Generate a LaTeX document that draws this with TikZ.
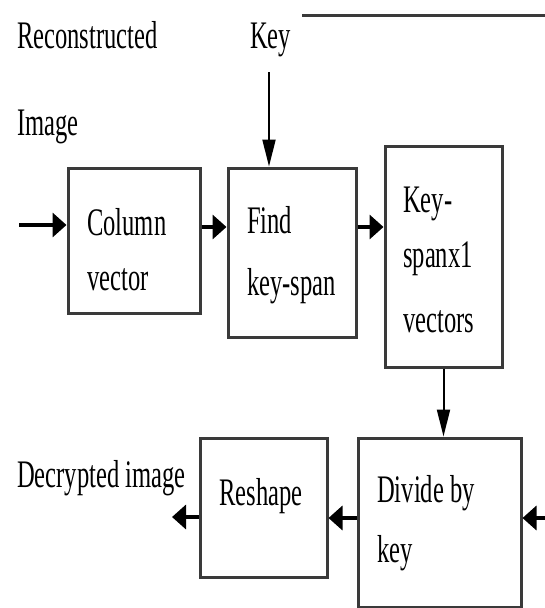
\documentclass[tikz,border=0pt]{standalone}
\usepackage{fontspec}
\setmainfont{Liberation Serif}[FakeStretch=0.63]
\usetikzlibrary{arrows.meta}
\definecolor{boxgray}{HTML}{3A3A3A}
\begin{document}
\begin{tikzpicture}[x=1pt,y=-1pt,
  box/.style={draw=boxgray, line width=3pt, inner sep=0pt, rectangle},
  lbl/.style={anchor=base west, inner sep=0pt, font=\fontsize{39}{47}\selectfont},
  harrow/.style={draw=black, line width=4pt, -{Triangle[length=14pt,width=24pt]}},
  varrow/.style={draw=black, line width=2pt, -{Triangle[length=27pt,width=13pt]}}]
\useasboundingbox (0,0) rectangle (545,608);

% boxes
\node[box, minimum width=132pt, minimum height=145pt] (col) at (134,240.5) {};
\node[box, minimum width=128pt, minimum height=169pt] (find) at (292,252.5) {};
\node[box, minimum width=117pt, minimum height=221pt] (kb) at (443.5,256.5) {};
\node[box, minimum width=127pt, minimum height=139pt] (rs) at (263.5,507.5) {};
\node[box, minimum width=163pt, minimum height=169pt] (div) at (439.5,522.5) {};

% labels
\node[lbl] (t1) at (17,48) {Reconstructed};
\node[lbl] (t2) at (17,135) {Image};
\node[lbl] (t3) at (250,48) {Key};
\node[lbl] (c1) at (87,235) {Column};
\node[lbl] (c2) at (87,290) {vector};
\node[lbl] (f1) at (247,233) {Find};
\node[lbl] (f2) at (247,295) {key-span};
\node[lbl] (k1) at (403,212) {Key-};
\node[lbl] (k2) at (403,267) {spanx1};
\node[lbl] (k3) at (403,332) {vectors};
\node[lbl] (d0) at (17,487) {Decrypted image};
\node[lbl] (r1) at (219,505) {Reshape};
\node[lbl] (d1) at (377,502) {Divide by};
\node[lbl] (d2) at (377,562) {key};

% free ends
\coordinate (in) at (19,225);
\coordinate (keyin) at (269,72);
\coordinate (out) at (172,517);
\coordinate (rin) at (545,518);
\coordinate (tl1) at (302,15);
\coordinate (tl2) at (545,15);

% connectors
\draw[draw=boxgray, line width=3pt] (tl1) -- (tl2);
\draw[harrow] (in) -- (in -| col.west);
\draw[harrow] (col.east |- 0,227) -- (find.west |- 0,227);
\draw[harrow] (find.east |- 0,227) -- (kb.west |- 0,227);
\draw[varrow] (keyin) -- (keyin |- find.north);
\draw[varrow] (kb.south) -- (kb.south |- div.north);
\draw[harrow] (div.west |- 0,518) -- (rs.east |- 0,518);
\draw[harrow] (rs.west |- out) -- (out);
\draw[harrow] (rin) -- (div.east |- rin);
\end{tikzpicture}
\end{document}
